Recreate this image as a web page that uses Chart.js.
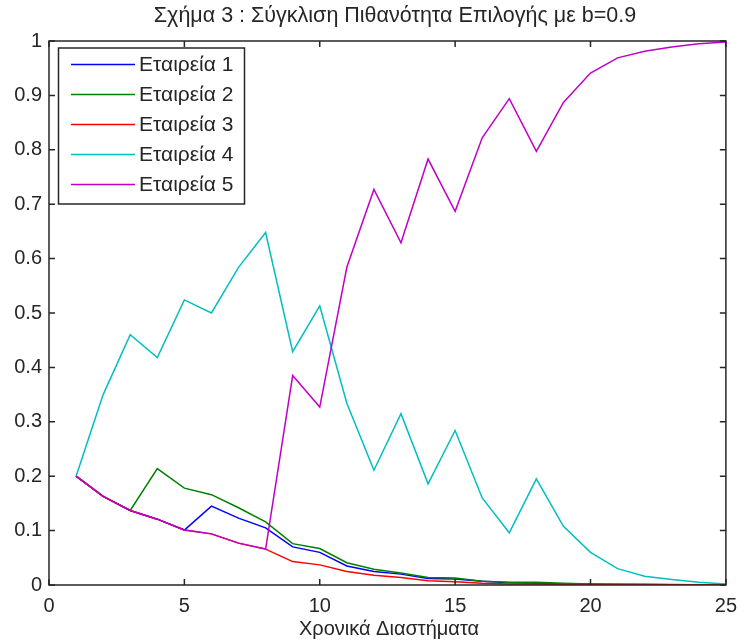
<!DOCTYPE html>
<html><head><meta charset="utf-8">
<script src="https://cdn.jsdelivr.net/npm/chart.js@4/dist/chart.umd.min.js"></script>
<style>html,body{margin:0;padding:0;background:#fff;overflow:hidden}</style>
</head><body>
<canvas id="c" width="746" height="643" style="width:746px;height:643px;display:block"></canvas>
<script>
const titleText = 'Σχήμα 3 : Σύγκλιση Πιθανότητα Επιλογής με b=0.9';
const xAxisTitle = 'Χρονικά Διαστήματα';
const periods = [1,2,3,4,5,6,7,8,9,10,11,12,13,14,15,16,17,18,19,20,21,22,23,24,25];
const seriesNames = ['Εταιρεία 1','Εταιρεία 2','Εταιρεία 3','Εταιρεία 4','Εταιρεία 5'];
const firm1 = [0.2,0.163,0.137,0.121,0.101,0.145,0.123,0.105,0.070,0.060,0.035,0.025,0.020,0.012,0.011,0.007,0.004,0.003,0.002,0.0015,0.001,0.001,0.0005,0.0003,0.0002];
const firm2 = [0.2,0.163,0.137,0.214,0.178,0.166,0.142,0.116,0.076,0.067,0.041,0.029,0.022,0.014,0.013,0.007,0.005,0.005,0.003,0.002,0.0015,0.001,0.0008,0.0005,0.0003];
const firm3 = [0.2,0.163,0.137,0.121,0.101,0.094,0.077,0.066,0.043,0.037,0.025,0.018,0.014,0.008,0.006,0.003,0.002,0.002,0.0015,0.001,0.001,0.0008,0.0005,0.0003,0.0002];
const firm4 = [0.2,0.350,0.460,0.418,0.524,0.500,0.584,0.648,0.429,0.513,0.334,0.211,0.315,0.186,0.284,0.160,0.096,0.195,0.108,0.060,0.030,0.016,0.010,0.005,0.002];
const firm5 = [0.2,0.163,0.137,0.121,0.101,0.094,0.077,0.066,0.385,0.327,0.584,0.727,0.629,0.783,0.687,0.822,0.894,0.797,0.887,0.941,0.969,0.981,0.989,0.995,0.998];
const xTicks = [0,5,10,15,20,25];
const yTicks = [0,0.1,0.2,0.3,0.4,0.5,0.6,0.7,0.8,0.9,1];
const colors = ['#0000ff','#008000','#ff0000','#00bfbf','#c000c8'];

const allSeries = [firm1, firm2, firm3, firm4, firm5];
const FONT = '"Liberation Sans", Arial, sans-serif';
const TEXT = '#262626';

const datasets = allSeries.map((s, i) => ({
  label: seriesNames[i],
  data: periods.map((p, j) => ({x: p, y: s[j]})),
  borderColor: colors[i],
  backgroundColor: colors[i],
  borderWidth: 1.5,
  pointRadius: 0,
  tension: 0,
  fill: false,
  order: 5 - i
}));

const matlabPlugin = {
  id: 'matlab',
  afterDatasetsDraw(chart) {
    const ctx = chart.ctx, a = chart.chartArea;
    const xs = chart.scales.x, ys = chart.scales.y;
    ctx.save();
    ctx.strokeStyle = TEXT;
    ctx.lineWidth = 1.5;
    const L = 6;
    ctx.beginPath();
    xTicks.forEach(v => {
      const px = xs.getPixelForValue(v);
      ctx.moveTo(px, a.bottom); ctx.lineTo(px, a.bottom - L);
      ctx.moveTo(px, a.top); ctx.lineTo(px, a.top + L);
    });
    yTicks.forEach(v => {
      const py = ys.getPixelForValue(v);
      ctx.moveTo(a.left, py); ctx.lineTo(a.left + L, py);
      ctx.moveTo(a.right, py); ctx.lineTo(a.right - L, py);
    });
    ctx.stroke();
    ctx.strokeRect(a.left, a.top, a.right - a.left, a.bottom - a.top);

    // legend
    const lx = 58.5, ly = 48, lw = 186, lh = 156;
    ctx.fillStyle = '#fff';
    ctx.fillRect(lx, ly, lw, lh);
    ctx.strokeRect(lx, ly, lw, lh);
    ctx.font = '21px ' + FONT;
    ctx.textBaseline = 'middle';
    ctx.textAlign = 'left';
    chart.data.datasets.forEach((d, i) => {
      const y = 64.5 + i * 30;
      ctx.strokeStyle = d.borderColor;
      ctx.lineWidth = 1.5;
      ctx.beginPath(); ctx.moveTo(71, y); ctx.lineTo(135, y); ctx.stroke();
      ctx.fillStyle = TEXT;
      ctx.fillText(d.label, 139, y + 1);
    });

    // title and x-axis title
    ctx.fillStyle = TEXT;
    ctx.textAlign = 'center';
    ctx.font = '21.5px ' + FONT;
    ctx.fillText(titleText, 395, 16);
    ctx.font = '20px ' + FONT;
    ctx.fillText(xAxisTitle, 389, 629);
    ctx.restore();
  }
};

new Chart(document.getElementById('c'), {
  type: 'line',
  data: { datasets },
  plugins: [matlabPlugin],
  options: {
    responsive: false,
    animation: false,
    devicePixelRatio: 1,
    layout: { padding: { top: 41, right: 10, left: 0, bottom: 0 } },
    plugins: { legend: { display: false }, title: { display: false }, tooltip: { enabled: false } },
    scales: {
      x: {
        type: 'linear', min: 0, max: 25,
        afterBuildTicks: s => { s.ticks = xTicks.map(v => ({value: v})); },
        afterFit: s => { s.height = 58; },
        grid: { display: false, drawTicks: false },
        border: { display: false },
        ticks: { color: TEXT, font: { family: FONT, size: 20 }, padding: 9, maxRotation: 0,
                 callback: v => String(v) }
      },
      y: {
        type: 'linear', min: 0, max: 1,
        afterBuildTicks: s => { s.ticks = yTicks.map(v => ({value: v})); },
        afterFit: s => { s.width = 49; },
        grid: { display: false, drawTicks: false },
        border: { display: false },
        ticks: { color: TEXT, font: { family: FONT, size: 20 }, padding: 7,
                 callback: v => String(+(+v).toFixed(1)) }
      }
    }
  }
});
</script>
</body></html>
